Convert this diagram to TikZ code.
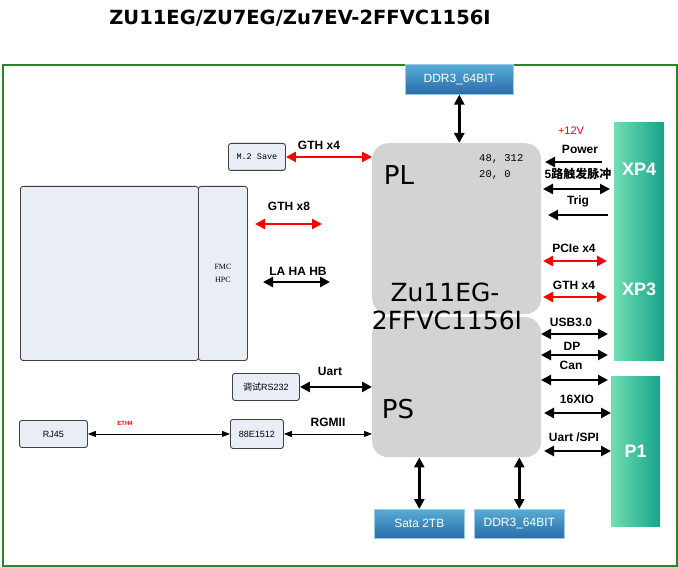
\documentclass[tikz,border=0pt]{standalone}
\usepackage{fontspec}
\setmainfont{Liberation Sans}
\newfontfamily\dvs{DejaVu Sans}
\newfontfamily\cjk{Noto Sans CJK SC}
\newfontfamily\monof{Liberation Mono}
\newfontfamily\seriff{Liberation Serif}
\usetikzlibrary{arrows.meta}
\definecolor{frameg}{RGB}{34,139,34}
\definecolor{chipgray}{RGB}{211,211,211}
\definecolor{boxfill}{RGB}{233,237,245}
\definecolor{boxline}{RGB}{64,64,64}
\definecolor{tealL}{RGB}{112,222,178}
\definecolor{tealD}{RGB}{22,162,138}
\definecolor{blueT}{RGB}{88,172,212}
\definecolor{blueB}{RGB}{42,108,172}
\definecolor{arrred}{RGB}{255,0,0}
\tikzset{
  chip/.style={draw=none, fill=chipgray, rounded corners=16pt, anchor=north west, inner sep=0},
  lbox/.style={draw=boxline, line width=0.9pt, fill=boxfill, rounded corners=2.5pt, anchor=north west, inner sep=0},
  bbox/.style={top color=blueT, bottom color=blueB, draw=blueT!60!white, line width=0.6pt, anchor=north west, inner sep=0, text=white, font=\fontsize{12}{13}\selectfont},
  conn/.style={left color=tealL, right color=tealD, draw=none, anchor=north west, inner sep=0, text=white, font=\bfseries\fontsize{18}{19}\selectfont},
  big/.style={line width=2.6pt, {Triangle[length=10pt,width=10pt]}-{Triangle[length=10pt,width=10pt]}},
  bigl/.style={line width=2.6pt, {Triangle[length=10pt,width=10pt]}-},
  redbig/.style={big, draw=arrred},
  thinarr/.style={line width=0.8pt, {Triangle[length=8pt,width=6pt]}-{Triangle[length=8pt,width=6pt]}},
  lab/.style={font=\bfseries\fontsize{12}{13}\selectfont, inner sep=0},
  chiptxt/.style={font=\dvs\fontsize{25}{27}\selectfont, inner sep=0},
  smalltxt/.style={font=\fontsize{9}{10}\selectfont}
}
\begin{document}
\begin{tikzpicture}[x=1pt,y=-1pt]
\useasboundingbox (0,0) rectangle (678,567);
% title
\node[font=\dvs\bfseries\fontsize{19.5}{21}\selectfont] (title) at (300,18) {ZU11EG/ZU7EG/Zu7EV-2FFVC1156I};
% frame
\node[draw=frameg, line width=1.6pt, minimum width=674pt, minimum height=501pt, anchor=north west, inner sep=0] (frame) at (2,64) {};
% chips
\node[chip, minimum width=169pt, minimum height=171pt] (pl) at (372,143) {};
\node[chip, minimum width=169pt, minimum height=140pt] (ps) at (372,317) {};
\node[chiptxt, font=\dvs\fontsize{26}{28}\selectfont] (pltxt) at (399,175) {PL};
\node[chiptxt, font=\dvs\fontsize{26}{28}\selectfont] (pstxt) at (398,409) {PS};
\node[chiptxt] (zu1) at (445,292) {Zu11EG-};
\node[chiptxt] (zu2) at (447,320) {2FFVC1156I};
\node[font=\monof\fontsize{10.5}{12}\selectfont, anchor=west, inner sep=0] (n1) at (479,159) {48, 312};
\node[font=\monof\fontsize{10.5}{12}\selectfont, anchor=west, inner sep=0] (n2) at (479,175) {20, 0};
% blue boxes
\node[bbox, minimum width=108pt, minimum height=30pt] (ddrT) at (405,64) {DDR3\_64BIT};
\node[bbox, minimum width=90pt, minimum height=29pt] (sata) at (374,509) {Sata 2TB};
\node[bbox, minimum width=90pt, minimum height=29pt] (ddrB) at (474,509) {DDR3\_64BIT};
% teal connectors
\node[conn, minimum width=50pt, minimum height=95pt] (xp4) at (614,122) {XP4};
\node[conn, minimum width=50pt, minimum height=142pt] (xp3) at (614,218) {XP3};
\node[conn, minimum width=49pt, minimum height=150pt] (p1) at (611,376) {P1};
% light boxes
\node[lbox, minimum width=57pt, minimum height=27pt, font=\monof\fontsize{8.5}{10}\selectfont] (m2) at (228,143) {M.2 Save};
\node[lbox, minimum width=178pt, minimum height=174pt] (carrier) at (20,186) {};
\node[lbox, minimum width=49pt, minimum height=174pt, align=center, font=\seriff\fontsize{8}{12.5}\selectfont] (fmc) at (198,186) {FMC\\HPC};
\node[lbox, minimum width=67pt, minimum height=27pt, smalltxt] (rs) at (232,373) {{\cjk 调试}RS232};
\node[lbox, minimum width=68pt, minimum height=27pt, smalltxt] (rj) at (19,420) {RJ45};
\node[lbox, minimum width=53pt, minimum height=29pt, smalltxt] (phy) at (230,419) {88E1512};
% vertical connectors
\draw[big] (ddrT.south) -- (ddrT.south |- pl.north);
\draw[big] (sata.north) -- (sata.north |- ps.south);
\draw[big] (ddrB.north) -- (ddrB.north |- ps.south);
% left connectors
\draw[redbig] (m2.east) -- (m2.east -| pl.west);
\node[lab] (lgth4) at (319,145) {GTH x4};
\coordinate (g8a) at (255,224); \coordinate (g8b) at (322,224);
\draw[redbig] (g8a) -- (g8b);
\node[lab] (lgth8) at (289,206) {GTH x8};
\coordinate (laa) at (263,282); \coordinate (lab) at (330,282);
\draw[big] (laa) -- (lab);
\node[lab] (llahb) at (298,271) {LA HA HB};
\draw[big] (rs.east) -- (rs.east -| ps.west);
\node[lab] (luart) at (330,371) {Uart};
\draw[thinarr] (rj.east) -- (rj.east -| phy.west);
\node[font=\bfseries\fontsize{6}{7}\selectfont, text=arrred, inner sep=0] (leth) at (125,423) {ETH4};
\draw[thinarr] (phy.east) -- (phy.east -| ps.west);
\node[lab] (lrgmii) at (328,422) {RGMII};
% right connectors
\node[font=\fontsize{11}{12}\selectfont, text=arrred, inner sep=0] (l12v) at (571,131) {+12V};
\coordinate (pwa) at (545,162); \coordinate (pwb) at (602,162);
\draw[bigl] (pwa) -- (pwb);
\node[lab] (lpow) at (580,149) {Power};
\coordinate (tra) at (543,189); \coordinate (trb) at (610,189);
\draw[big] (tra) -- (trb);
\node[lab] (ltr5) at (578,174) {5{\cjk 路触发脉冲}};
\coordinate (tga) at (548,215); \coordinate (tgb) at (608,215);
\draw[bigl] (tga) -- (tgb);
\node[lab] (ltrig) at (578,201) {Trig};
\coordinate (pca) at (543,261); \coordinate (pcb) at (607,261);
\draw[redbig] (pca) -- (pcb);
\node[lab] (lpcie) at (574,248) {PCIe x4};
\coordinate (gra) at (543,297); \coordinate (grb) at (607,297);
\draw[redbig] (gra) -- (grb);
\node[lab] (lgthr) at (574,285) {GTH x4};
\coordinate (usa) at (541,334); \coordinate (usb) at (608,334);
\draw[big] (usa) -- (usb);
\node[lab] (lusb) at (571,322) {USB3.0};
\coordinate (dpa) at (541,355); \coordinate (dpb) at (608,355);
\draw[big] (dpa) -- (dpb);
\node[lab] (ldp) at (572,346) {DP};
\coordinate (cna) at (541,380); \coordinate (cnb) at (608,380);
\draw[big] (cna) -- (cnb);
\node[lab] (lcan) at (571,365) {Can};
\coordinate (ioa) at (544,413);
\draw[big] (ioa) -- (ioa -| p1.west);
\node[lab] (lio) at (577,399) {16XIO};
\coordinate (spa) at (544,451);
\draw[big] (spa) -- (spa -| p1.west);
\node[lab] (lspi) at (574,437) {Uart /SPI};
\end{tikzpicture}
\end{document}
